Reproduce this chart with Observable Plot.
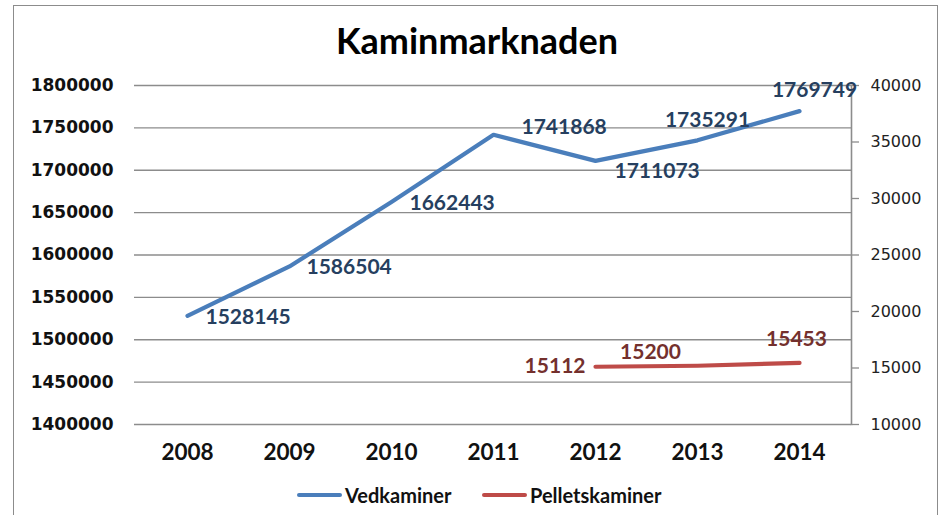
<!DOCTYPE html>
<html>
<head>
<meta charset="utf-8">
<script src="https://cdn.jsdelivr.net/npm/d3@7"></script>
<script src="https://cdn.jsdelivr.net/npm/@observablehq/plot@0.6"></script>
<style>
  html, body { margin: 0; padding: 0; background: #fff; }
  #wrap { position: relative; width: 946px; height: 515px; overflow: hidden; }
  #border { position: absolute; left: 13px; top: 5px; width: 925px; height: 520px; border: 1.6px solid #8c8c8c; box-sizing: border-box; }
  #title { position: absolute; left: 0; width: 954px; top: 18px; text-align: center; font-family: Lato, sans-serif; font-weight: bold; font-size: 36px; color: #000; line-height: 44px; }
  #chart { position: absolute; left: 0; top: 0; }
  #legend { position: absolute; top: 482px; left: 0; width: 946px; font-family: Lato, sans-serif; font-weight: bold; font-size: 20px; color: #111; }
  .item { position: absolute; display: flex; align-items: center; height: 26px; }
  .sw { display: inline-block; width: 45px; height: 4px; border-radius: 2px; margin-right: 3px; }
</style>
</head>
<body>
<div id="wrap">
  <div id="border"></div>
  <div id="title">Kaminmarknaden</div>
  <div id="chart"></div>
  <div id="legend"></div>
</div>
<script>
// ---- data ----
const years = ["2008", "2009", "2010", "2011", "2012", "2013", "2014"];
const vedkaminer = [1528145, 1586504, 1662443, 1741868, 1711073, 1735291, 1769749];
const pelletYears = ["2012", "2013", "2014"];
const pelletskaminer = [15112, 15200, 15453];
const leftTicks = [1400000, 1450000, 1500000, 1550000, 1600000, 1650000, 1700000, 1750000, 1800000];
const rightTicks = [10000, 15000, 20000, 25000, 30000, 35000, 40000];
const seriesNames = ["Vedkaminer", "Pelletskaminer"];
const colors = ["#4a7ebb", "#be4b48"];
const labelColors = ["#263f5f", "#74302d"];

// right axis domain -> left axis domain
const leftDomain = [1400000, 1800000];
const rightDomain = [10000, 40000];
const toLeft = v => leftDomain[0] + (v - rightDomain[0]) * (leftDomain[1] - leftDomain[0]) / (rightDomain[1] - rightDomain[0]);
const toRight = v => Math.round(rightDomain[0] + (v - leftDomain[0]) * (rightDomain[1] - rightDomain[0]) / (leftDomain[1] - leftDomain[0]));

const ved = years.map((y, i) => ({year: y, value: vedkaminer[i]}));
const pel = pelletYears.map((y, i) => ({year: y, value: pelletskaminer[i], yl: toLeft(pelletskaminer[i])}));

// label placement (layout only)
const vedLabelPlace = {
  "2008": {dx: 18, dy: 1, anchor: "start"},
  "2009": {dx: 17, dy: 1, anchor: "start"},
  "2010": {dx: 18, dy: 1, anchor: "start"},
  "2011": {dx: 28, dy: -8, anchor: "start"},
  "2012": {dx: 19, dy: 10, anchor: "start"},
  "2013": {dx: 10, dy: -20, anchor: "middle"},
  "2014": {dx: 15, dy: -21, anchor: "middle"}
};
const pelLabelPlace = {
  "2012": {dx: -10, dy: 0, anchor: "end"},
  "2013": {dx: -47, dy: -13, anchor: "middle"},
  "2014": {dx: -3, dy: -24, anchor: "middle"}
};

const labelFont = {fontFamily: "Lato, sans-serif", fontWeight: "bold", fontSize: 21};

const marks = [
  Plot.gridY(leftTicks, {stroke: "#8c8c8c", strokeOpacity: 1, strokeWidth: 1.3}),
  Plot.axisY(leftTicks, {anchor: "left", tickSize: 0, tickPadding: 21, tickFormat: d => String(d),
    fontFamily: "DejaVu Sans, sans-serif", fontWeight: "bold", fontSize: 17, fill: "#111", label: null}),
  Plot.axisY(rightTicks.map(toLeft), {anchor: "right", tickSize: 7, tickPadding: 12, tickFormat: d => String(toRight(d)),
    stroke: "#8c8c8c", strokeWidth: 1.3, fontFamily: "DejaVu Sans, sans-serif", fontSize: 16, fill: "#222", label: null}),
  Plot.frame({anchor: "right", stroke: "#8c8c8c", strokeWidth: 1.6}),
  Plot.axisX({tickSize: 0, tickPadding: 20, fontFamily: "Lato, sans-serif", fontWeight: "bold", fontSize: 22.5, fill: "#111", label: null}),
  Plot.line(ved, {x: "year", y: "value", stroke: colors[0], strokeWidth: 4.2, strokeLinecap: "round", strokeLinejoin: "round"}),
  Plot.line(pel, {x: "year", y: "yl", stroke: colors[1], strokeWidth: 4.2, strokeLinecap: "round", strokeLinejoin: "round"}),
  ...years.map(yr => Plot.text(ved, {filter: d => d.year === yr, x: "year", y: "value", text: d => String(d.value),
    dx: vedLabelPlace[yr].dx, dy: vedLabelPlace[yr].dy, textAnchor: vedLabelPlace[yr].anchor, fill: labelColors[0], ...labelFont})),
  ...pelletYears.map(yr => Plot.text(pel, {filter: d => d.year === yr, x: "year", y: "yl", text: d => String(d.value),
    dx: pelLabelPlace[yr].dx, dy: pelLabelPlace[yr].dy, textAnchor: pelLabelPlace[yr].anchor, fill: labelColors[1], ...labelFont}))
];

const chart = Plot.plot({
  width: 946,
  height: 470,
  marginLeft: 134,
  marginRight: 95,
  marginTop: 85,
  marginBottom: 46,
  style: {background: "transparent", overflow: "visible"},
  x: {type: "point", domain: years, padding: 0.5, axis: null},
  y: {domain: leftDomain, axis: null},
  marks
});
document.getElementById("chart").appendChild(chart);

// legend
const legend = document.getElementById("legend");
const legendLeft = [297, 482];
seriesNames.forEach((name, i) => {
  const item = document.createElement("div");
  item.className = "item";
  item.style.left = legendLeft[i] + "px";
  item.innerHTML = `<span class="sw" style="background:${colors[i]}"></span><span>${name}</span>`;
  legend.appendChild(item);
});
</script>
</body>
</html>
